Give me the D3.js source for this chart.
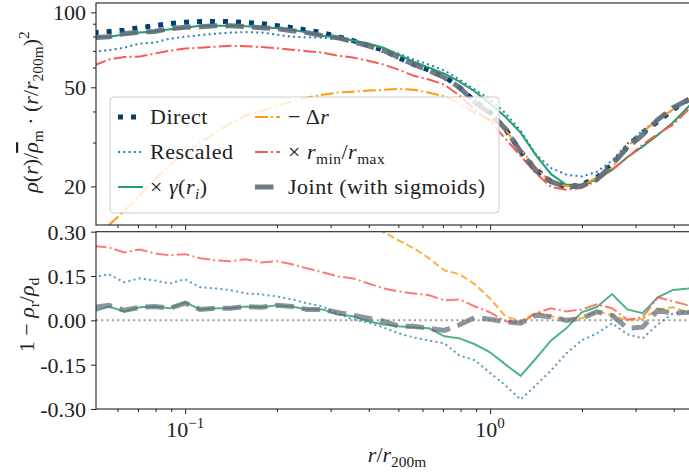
<!DOCTYPE html>
<html>
<head>
<meta charset="utf-8">
<script src="https://cdn.jsdelivr.net/npm/d3@7"></script>
<style>
  body { margin: 0; background: #fff; }
  svg { display: block; }
</style>
</head>
<body>
<svg id="chart" width="689" height="473"></svg>
<script>
// radius bins r / r200m
var radius = [0.0501,0.0562,0.0631,0.0708,0.0794,0.0891,0.100,0.112,0.126,0.141,0.158,0.178,0.200,0.224,0.251,0.282,0.316,0.355,0.398,0.447,0.501,0.562,0.631,0.708,0.794,0.891,1.000,1.122,1.259,1.413,1.585,1.778,1.995,2.239,2.512,2.818,3.162,3.548,3.981,4.467,5.012];

// top panel: rho / rho_m * (r/r200m)^2
var direct   = [82.9,83.7,84.8,86.8,88.4,90.1,91.3,91.8,91.8,91.8,91.0,90.1,88.4,86.8,84.8,82.9,79.8,77.0,73.8,70.5,65.8,61.7,58.6,55.2,49.9,44.0,39.6,34.1,27.6,23.4,20.9,19.9,20.3,21.7,24.5,28.9,32.9,36.4,40.7,44.6,49.0];
var rescaled = [69.5,70.5,72.1,74.9,75.6,78.4,79.8,81.0,82.1,82.9,83.3,82.9,81.4,79.8,79.4,79.1,78.0,76.3,74.5,71.5,68.3,64.6,61.7,58.4,53.7,48.9,44.8,39.4,33.5,26.9,23.7,22.3,21.9,22.9,25.4,29.7,33.5,37.1,40.7,44.6,48.5];
var gamma    = [79.1,79.8,81.4,82.9,83.7,85.6,86.8,88.4,88.4,88.4,88.0,87.2,86.4,85.2,82.9,80.6,79.1,77.0,74.9,72.1,67.6,63.4,60.0,56.7,52.7,48.1,43.0,38.1,32.9,26.7,22.4,20.3,20.3,21.3,23.3,26.2,28.9,32.2,36.1,41.8,46.7];
var deltaR   = [12.2,14.0,15.9,18.4,21.3,24.5,27.1,30.0,32.9,35.8,38.5,40.3,42.2,43.8,45.5,46.7,47.6,48.0,48.5,48.9,49.2,48.9,47.5,46.0,43.0,39.5,37.1,33.8,28.1,23.8,20.7,20.1,20.1,21.7,23.8,28.9,32.9,37.1,40.7,44.6,48.9];
var minMax   = [61.1,64.6,66.1,66.4,68.3,70.2,71.5,72.1,72.8,73.4,73.1,72.5,71.8,70.8,69.8,68.9,67.0,65.8,63.9,61.7,58.9,55.6,53.7,51.2,46.3,40.7,36.4,31.1,26.5,22.6,19.9,19.4,19.7,21.1,23.4,26.1,29.4,32.5,35.4,40.7,45.3];
var joint    = [79.1,79.8,82.1,83.3,83.7,86.0,87.2,87.6,88.4,88.4,87.6,86.8,86.0,84.4,82.9,80.6,79.1,76.3,73.4,70.2,65.8,61.7,58.4,54.7,49.9,43.5,39.3,34.1,27.6,23.1,20.9,19.9,20.1,21.3,24.5,28.6,32.2,37.1,41.4,44.6,48.9];

// bottom panel: 1 - rho_r / rho_d
var rescaledRes = [0.146,0.156,0.129,0.142,0.135,0.125,0.139,0.112,0.108,0.102,0.091,0.088,0.081,0.071,0.058,0.047,0.024,0.003,-0.007,-0.024,-0.044,-0.058,-0.068,-0.078,-0.119,-0.135,-0.178,-0.220,-0.268,-0.220,-0.169,-0.112,-0.068,-0.044,-0.010,-0.047,-0.061,-0.014,0.024,0.027,0.034];
var gammaRes    = [0.030,0.047,0.030,0.044,0.047,0.041,0.061,0.037,0.041,0.041,0.047,0.044,0.051,0.047,0.037,0.037,0.020,0.014,-0.003,-0.014,-0.020,-0.024,-0.027,-0.054,-0.061,-0.081,-0.108,-0.149,-0.188,-0.129,-0.068,-0.027,0.027,0.045,0.089,0.037,0.024,0.078,0.103,0.108,0.118];
var deltaRRes   = [0.85,0.83,0.81,0.79,0.76,0.73,0.70,0.67,0.64,0.61,0.58,0.55,0.52,0.50,0.46,0.44,0.40,0.38,0.34,0.298,0.271,0.244,0.210,0.169,0.156,0.122,0.074,0.014,-0.003,0.027,0.014,0.002,0.007,0.031,0.017,0.000,0.005,0.037,0.044,0.027,0.034];
var minMaxRes   = [0.251,0.247,0.230,0.240,0.227,0.220,0.224,0.210,0.203,0.200,0.207,0.196,0.200,0.190,0.176,0.163,0.149,0.142,0.125,0.108,0.098,0.091,0.085,0.068,0.071,0.047,0.027,-0.003,-0.010,0.024,0.041,0.030,0.037,0.054,0.041,0.003,0.010,0.078,0.064,0.051,0.044];
var jointRes    = [0.044,0.051,0.034,0.044,0.047,0.041,0.058,0.037,0.041,0.041,0.047,0.044,0.051,0.047,0.037,0.037,0.027,0.017,0.007,-0.003,-0.020,-0.020,-0.027,-0.034,-0.015,0.010,0.004,-0.005,-0.010,0.017,0.012,0.000,0.007,0.029,0.017,-0.027,-0.023,0.034,0.024,0.027,0.034];

var topTicks = [20, 50, 100];
var topMinor = [30, 40, 60, 70, 80, 90];
var botTicks = [-0.30, -0.15, 0.00, 0.15, 0.30];
var xMajor = [0.1, 1];
var xMinor = [0.06,0.07,0.08,0.09,0.2,0.3,0.4,0.5,0.6,0.7,0.8,0.9,2,3,4];

// panel geometry
var left = 96, right = 689;
var topPanel = {y0: 3, y1: 225};
var botPanel = {y0: 231.7, y1: 409};
var TXT = "font-family:'Liberation Serif';font-size:22px;";

var svg = d3.select("#chart");

var x = d3.scaleLog().domain([0.051, 4.49]).range([left, right]);
var yTop = d3.scaleLog().domain([14, 109]).range([topPanel.y1, topPanel.y0]);
var yBot = d3.scaleLinear().domain([-0.30, 0.30]).range([botPanel.y1, botPanel.y0]);

var series = [
  {top: direct,   bot: null,        color: "#003f72", width: 5,   dash: "5,8",            topDash: "5,8"},
  {top: rescaled, bot: rescaledRes, color: "#2a7fb8", width: 2,   dash: "2,3.3",          topDash: "2,3.3"},
  {top: gamma,    bot: gammaRes,    color: "#22a06b", width: 2,   dash: null,             topDash: null},
  {top: deltaR,   bot: deltaRRes,   color: "#ff9a10", width: 2,   dash: "7.4,3.2",        topDash: "12.8,3.2,2,3.2"},
  {top: minMax,   bot: minMaxRes,   color: "#f75a4e", width: 2,   dash: "12.8,3.2,2,3.2", topDash: "12.8,3.2,2,3.2"},
  {top: joint,    bot: jointRes,    color: "#5f6d7a", width: 5,   dash: "18.5,8",         topDash: "18.5,8", opacity: 0.9}
];

// clip paths
var defs = svg.append("defs");
defs.append("clipPath").attr("id", "clipTop").append("rect")
  .attr("x", left).attr("y", topPanel.y0).attr("width", 700 - left).attr("height", topPanel.y1 - topPanel.y0);
defs.append("clipPath").attr("id", "clipBot").append("rect")
  .attr("x", left).attr("y", botPanel.y0).attr("width", 700 - left).attr("height", botPanel.y1 - botPanel.y0);

// ---------- top panel lines ----------
var gTop = svg.append("g").attr("clip-path", "url(#clipTop)");
series.forEach(function(s) {
  var line = d3.line().x(function(d, i) { return x(radius[i]); }).y(function(d) { return yTop(d); });
  gTop.append("path")
    .attr("d", line(s.top))
    .attr("fill", "none")
    .attr("stroke", s.color)
    .attr("stroke-width", s.width)
    .attr("stroke-dasharray", s.topDash)
    .attr("opacity", s.opacity || 1);
});

// ---------- bottom panel lines ----------
var gBot = svg.append("g").attr("clip-path", "url(#clipBot)");
gBot.append("line")
  .attr("x1", left).attr("x2", 700)
  .attr("y1", yBot(0)).attr("y2", yBot(0))
  .attr("stroke", "#999").attr("stroke-width", 2).attr("stroke-dasharray", "2,3.3");
series.forEach(function(s) {
  if (!s.bot) return;
  var line = d3.line().x(function(d, i) { return x(radius[i]); }).y(function(d) { return yBot(d); });
  gBot.append("path")
    .attr("d", line(s.bot))
    .attr("fill", "none")
    .attr("stroke", s.color)
    .attr("stroke-width", s.width)
    .attr("stroke-dasharray", s.dash)
    .attr("opacity", (s.opacity || 1) * 0.8);
});

// ---------- axes ----------
function clean(g) {
  g.select(".domain").remove();
  g.selectAll(".tick line").attr("stroke", "#222");
  g.selectAll(".tick text").attr("style", TXT).attr("fill", "#222").attr("dy", "0.34em");
}

svg.append("g").attr("transform", "translate(" + left + ",0)")
  .call(d3.axisLeft(yTop).tickValues(topTicks).tickFormat(d3.format("d")).tickSize(5).tickPadding(5))
  .call(clean);
svg.append("g").attr("transform", "translate(" + left + ",0)")
  .call(d3.axisLeft(yTop).tickValues(topMinor).tickFormat("").tickSize(3))
  .call(clean);
svg.append("g").attr("transform", "translate(" + left + ",0)")
  .call(d3.axisLeft(yBot).tickValues(botTicks).tickFormat(function(d) { return d.toFixed(2); }).tickSize(5).tickPadding(5))
  .call(clean);

[topPanel.y1, botPanel.y1].forEach(function(yy) {
  svg.append("g").attr("transform", "translate(0," + yy + ")")
    .call(d3.axisBottom(x).tickValues(xMajor).tickFormat("").tickSize(5))
    .call(clean);
  svg.append("g").attr("transform", "translate(0," + yy + ")")
    .call(d3.axisBottom(x).tickValues(xMinor).tickFormat("").tickSize(3))
    .call(clean);
});

// x tick labels 10^-1, 10^0
var xLabels = [{v: 0.1, e: "\u22121"}, {v: 1, e: "0"}];
xLabels.forEach(function(l) {
  var t = svg.append("text")
    .attr("x", x(l.v)).attr("y", 437)
    .attr("text-anchor", "middle")
    .attr("style", TXT).attr("fill", "#222");
  t.append("tspan").text("10");
  t.append("tspan").text(l.e).attr("dy", -9).style("font-size", "15px");
});

// frames
[topPanel, botPanel].forEach(function(p) {
  svg.append("rect")
    .attr("x", left).attr("y", p.y0)
    .attr("width", 720 - left).attr("height", p.y1 - p.y0)
    .attr("fill", "none").attr("stroke", "#222").attr("stroke-width", 1.1);
});

// ---------- math text helper ----------
function addMath(text, parts, size) {
  var shift = 0;
  parts.forEach(function(p) {
    var kind = p[1] || "";
    var target = (kind === "sub" || kind === "subi") ? size * 0.22 : (kind === "sup" ? -size * 0.4 : 0);
    var ts = text.append("tspan").text(p[0]).attr("dy", target - shift);
    shift = target;
    if (kind === "i" || kind === "subi" || kind === "bar") ts.style("font-style", "italic");
    if (kind === "bar") ts.style("text-decoration", "overline");
    if (kind === "sub" || kind === "subi" || kind === "sup") ts.style("font-size", (size * 0.7) + "px");
  });
}

// axis labels
var yl1 = svg.append("text")
  .attr("transform", "translate(38,112) rotate(-90)")
  .attr("text-anchor", "middle").attr("style", TXT).attr("fill", "#222");
addMath(yl1, [["\u03c1", "i"], ["(", ""], ["r", "i"], [")/", ""], ["\u03c1", "bar"], ["m", "sub"],
              [" \u00b7 (", ""], ["r", "i"], ["/", ""], ["r", "i"], ["200m", "sub"], [")", ""], ["2", "sup"]], 22);

var yl2 = svg.append("text")
  .attr("transform", "translate(34,315) rotate(-90)")
  .attr("text-anchor", "middle").attr("style", TXT).attr("fill", "#222");
addMath(yl2, [["1 \u2212 ", ""], ["\u03c1", "i"], ["r", "sub"], ["/", ""], ["\u03c1", "i"], ["d", "sub"]], 22);

var xl = svg.append("text")
  .attr("x", 397).attr("y", 462)
  .attr("text-anchor", "middle").attr("style", TXT).attr("fill", "#222");
addMath(xl, [["r", "i"], ["/", ""], ["r", "i"], ["200m", "sub"]], 22);

// ---------- legend ----------
var legend = svg.append("g");
legend.append("rect")
  .attr("x", 110).attr("y", 97).attr("width", 389).attr("height", 116).attr("rx", 4)
  .attr("fill", "#fff").attr("fill-opacity", 0.8)
  .attr("stroke", "#ccc").attr("stroke-width", 1);

var legendLabels = [
  [["Direct", ""]],
  [["Rescaled", ""]],
  [["\u00d7 ", ""], ["\u03b3", "i"], ["(", ""], ["r", "i"], ["i", "subi"], [")", ""]],
  [["\u2212 \u0394", ""], ["r", "i"]],
  [["\u00d7 ", ""], ["r", "i"], ["min", "sub"], ["/", ""], ["r", "i"], ["max", "sub"]],
  [["Joint (with sigmoids)", ""]]
];
var rowY = [117, 152, 187];
var colX = [{h: 118, t: 150}, {h: 255, t: 288}];

series.forEach(function(s, i) {
  var col = colX[Math.floor(i / 3)], yy = rowY[i % 3];
  legend.append("line")
    .attr("x1", col.h).attr("x2", col.h + 25)
    .attr("y1", yy).attr("y2", yy)
    .attr("stroke", s.color).attr("stroke-width", s.width)
    .attr("stroke-dasharray", s.topDash)
    .attr("opacity", s.opacity || 1);
  var t = legend.append("text")
    .attr("x", col.t).attr("y", yy + 7)
    .attr("style", TXT + "letter-spacing:0.5px;").attr("fill", "#222");
  addMath(t, legendLabels[i], 22);
});
</script>
</body>
</html>
